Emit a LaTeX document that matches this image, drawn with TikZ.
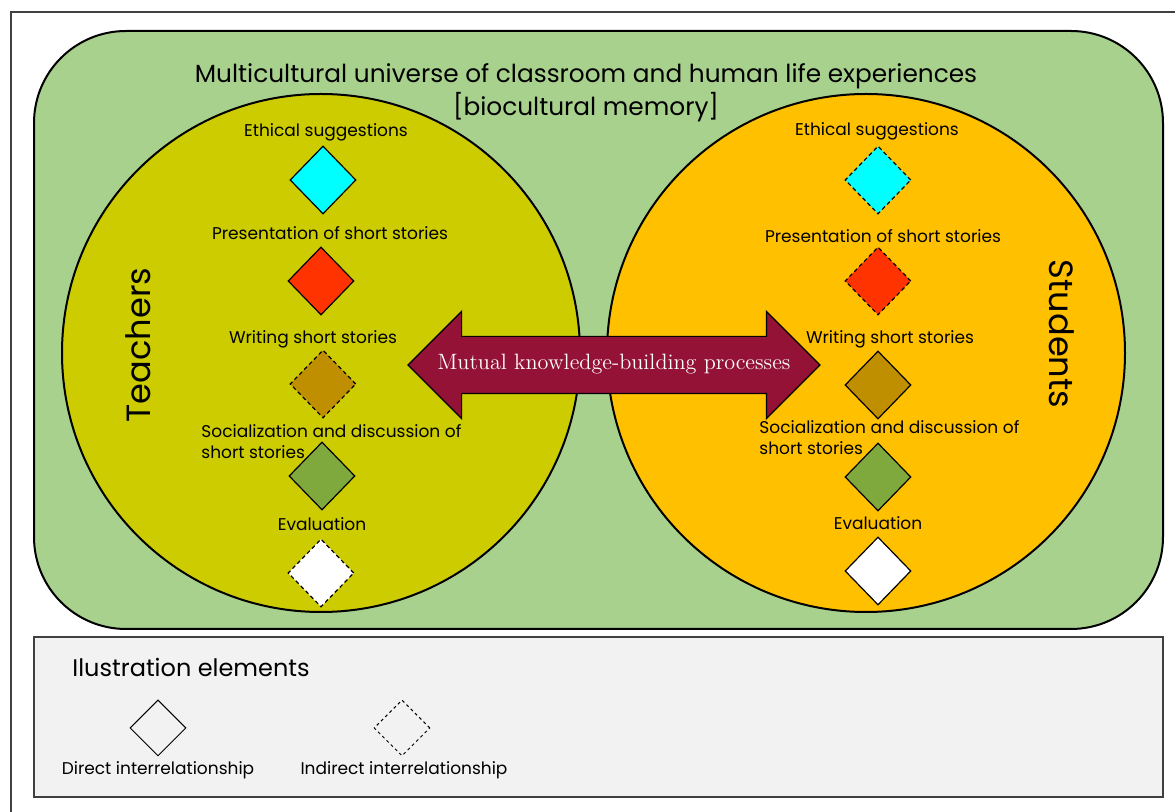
\documentclass[tikz,border=0pt]{standalone}
\usepackage{fontspec}
\newfontfamily\gothic{Poppins}
\usetikzlibrary{shapes.geometric,shapes.arrows}

\definecolor{bggreen}{RGB}{169,209,142}
\definecolor{teachyellow}{RGB}{204,204,0}
\definecolor{studorange}{RGB}{255,192,0}
\definecolor{ethcyan}{RGB}{0,255,255}
\definecolor{presred}{RGB}{255,51,0}
\definecolor{writbrown}{RGB}{191,143,0}
\definecolor{socgreen}{RGB}{127,168,61}
\definecolor{mutualred}{RGB}{148,18,54}
\definecolor{legendgray}{RGB}{242,242,242}
\definecolor{framegray}{RGB}{64,64,64}

\tikzset{
  stage/.style={diamond, draw, line width=0.6pt, minimum width=33pt, minimum height=34pt, inner sep=0pt},
  keystage/.style={diamond, draw, line width=0.5pt, minimum width=28pt, minimum height=28pt, inner sep=0pt},
  indirect/.style={dash pattern=on 2pt off 1.5pt},
  lbl/.style={font=\gothic\fontsize{8.5}{10.5}\selectfont, inner sep=0pt},
  heading/.style={font=\gothic\fontsize{12.4}{14}\selectfont, inner sep=0pt},
  side/.style={font=\gothic\fontsize{16.8}{18}\selectfont, inner sep=0pt}
}

\begin{document}
\begin{tikzpicture}[x=0.5pt,y=0.5pt,yscale=-1,xscale=1]
\clip (0,0) rectangle (1175,812);

%Shape: Frame
\draw [framegray, line width=0.8pt] (11,12) rectangle (1195,830);
%Shape: Rounded Rect [universe]
\draw [fill=bggreen, line width=1pt, rounded corners=46pt] (34,31) rectangle (1163,629);
%Shape: Circle [teachers]
\draw [fill=teachyellow, line width=1pt] (321,353) circle (259);
%Shape: Circle [students]
\draw [fill=studorange, line width=1pt] (866,353) circle (259);

% Text Node
\node [heading] (title) at (586,76) {Multicultural universe of classroom and human life experiences};
% Text Node
\node [heading] (memory) at (586,107) {[biocultural memory]};
% Text Node
\node [side, rotate=90] (teachers) at (138,345) {Teachers};
% Text Node
\node [side, rotate=-90] (students) at (1062,334) {Students};

%Teachers column
\node [lbl] (tEthL) at (326,132) {Ethical suggestions};
\node [stage, fill=ethcyan] (tEth) at (323,180) {};
\node [lbl] (tPreL) at (330,233) {Presentation of short stories};
\node [stage, fill=presred] (tPre) at (321,281) {};
\node [lbl] (tWriL) at (313,339) {Writing short stories};
\node [stage, indirect, fill=writbrown] (tWri) at (323,384) {};
\node [lbl, align=left, anchor=west] (tSocL) at (201,442) {Socialization and discussion of\\short stories};
\node [stage, fill=socgreen] (tSoc) at (322,476) {};
\node [lbl] (tEvaL) at (322,524) {Evaluation};
\node [stage, indirect, fill=white] (tEva) at (321,573) {};

%Students column
\node [lbl] (sEthL) at (877,131) {Ethical suggestions};
\node [stage, indirect, fill=ethcyan] (sEth) at (878,180) {};
\node [lbl] (sPreL) at (883,236) {Presentation of short stories};
\node [stage, indirect, fill=presred] (sPre) at (878,281) {};
\node [lbl] (sWriL) at (890,339) {Writing short stories};
\node [stage, fill=writbrown] (sWri) at (878,385) {};
\node [lbl, align=left, anchor=west] (sSocL) at (759,438) {Socialization and discussion of\\short stories};
\node [stage, fill=socgreen] (sSoc) at (878,477) {};
\node [lbl] (sEvaL) at (878,523) {Evaluation};
\node [stage, fill=white] (sEva) at (878,571) {};

%Shape: Double Arrow
\node [double arrow, draw, line width=0.6pt, fill=mutualred, text=white,
       double arrow head extend=12.5pt, minimum height=206pt,
       inner xsep=0pt, inner ysep=9.5pt, text height=7pt, text depth=2pt,
       font=\fontsize{11.1}{12}\selectfont] (mutual) at (614,365) {Mutual knowledge-building processes};

%Shape: Legend box
\draw [fill=legendgray, draw=framegray, line width=0.8pt] (34,637) rectangle (1163,797);
% Text Node
\node [heading, anchor=west, font=\gothic\fontsize{12}{14}\selectfont] (legend) at (72,667) {Ilustration elements};
\node [keystage] (direct) at (158,728) {};
\node [keystage, dash pattern=on 1.5pt off 1.5pt] (indirectKey) at (402,728) {};
\node [lbl] (directL) at (158,770) {Direct interrelationship};
\node [lbl] (indirectL) at (404,770) {Indirect interrelationship};

\end{tikzpicture}
\end{document}
